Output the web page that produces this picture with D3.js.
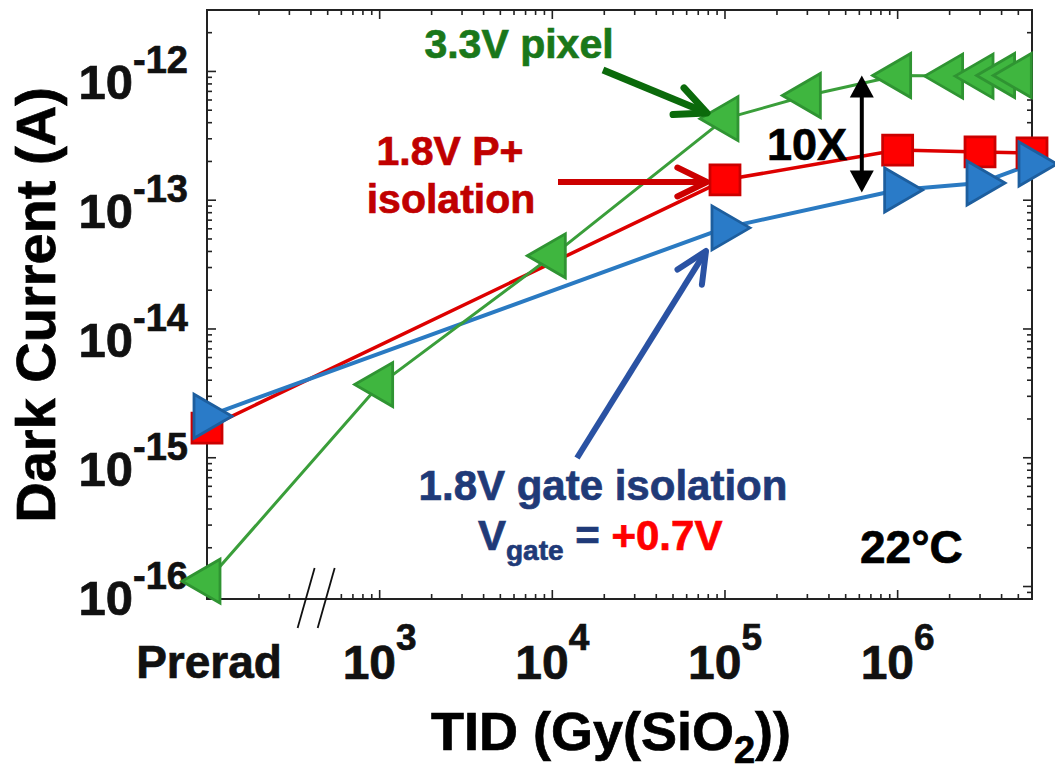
<!DOCTYPE html>
<html>
<head>
<meta charset="utf-8">
<script src="https://cdn.jsdelivr.net/npm/d3@7"></script>
<style>
  html, body { margin: 0; padding: 0; background: #fff; }
  svg { display: block; font-family: "Liberation Sans", Arial, Helvetica, sans-serif; font-weight: bold; }
  text { stroke: currentColor; stroke-width: 0.7px; }
</style>
</head>
<body>
<svg id="chart" width="1055" height="771"></svg>
<script>
// Pre-irradiation points sit at this dose position, left of the axis break
const PRERAD_POS = 1e2;

// Dose (Gy(SiO2)); 0 = pre-irradiation
const pixel33Dose    = [0, 1e3, 1e4, 1e5, 3e5, 1e6, 2e6, 3e6, 4e6, 5e6];
const pixel33Current = [1.1e-16, 3.7e-15, 3.7e-14, 4.3e-13, 6.5e-13, 9.3e-13, 9.2e-13, 9.2e-13, 9.3e-13, 9.3e-13];

const pIsoDose    = [0, 1e5, 1e6, 3e6, 6e6];
const pIsoCurrent = [1.7e-15, 1.44e-13, 2.45e-13, 2.37e-13, 2.33e-13];

const gateIsoDose    = [0, 1e5, 1e6, 3e6, 6e6];
const gateIsoCurrent = [2.1e-15, 6.1e-14, 1.2e-13, 1.36e-13, 1.91e-13];

const xTickExponents = [3, 4, 5, 6];
const yTickExponents = [-12, -13, -14, -15, -16];
const xDomain = [1e2, 6e6];
const yDomain = [8e-17, 3e-12];
const axisBreakDose = [3.75e2, 4.9e2];   // the two "//" marks
const tenXDose = 6.2e5;                   // double arrow position
const tenXSpan = [9.3e-13, 1.15e-13];

const svg = d3.select("#chart");
const plot = { left: 207, right: 1032, top: 10, bottom: 599 };

const x = d3.scaleLog().domain(xDomain).range([plot.left, plot.right]);
const y = d3.scaleLog().domain(yDomain).range([plot.bottom, plot.top]);
const xd = d => x(d === 0 ? PRERAD_POS : d);

// colour helper so the text outline follows the fill
function colored(sel, c) { return sel.attr("fill", c).style("color", c); }

// ---------- frame ----------
const axisColor = "#222";
svg.append("rect")
  .attr("x", plot.left).attr("y", plot.top)
  .attr("width", plot.right - plot.left).attr("height", plot.bottom - plot.top)
  .attr("fill", "none").attr("stroke", axisColor).attr("stroke-width", 2);

// ---------- ticks ----------
const ticksG = svg.append("g").attr("stroke", axisColor).attr("stroke-width", 1.6);
const xTicks = [];
for (let d = 2; d <= 6; d++) for (let m = 1; m <= 9; m++) {
  const v = m * Math.pow(10, d);
  if (v > xDomain[0] && v <= xDomain[1] * 1.0001) xTicks.push({ v, major: m === 1 });
}
xTicks.forEach(t => {
  const px = x(t.v), len = t.major ? 9 : 5;
  ticksG.append("line").attr("x1", px).attr("x2", px).attr("y1", plot.top).attr("y2", plot.top + len);
  const hidden = t.v > axisBreakDose[0] * 0.9 && t.v < axisBreakDose[1] * 1.15;
  if (!hidden)
    ticksG.append("line").attr("x1", px).attr("x2", px).attr("y1", plot.bottom).attr("y2", plot.bottom - len);
});
const yTicks = [];
for (let d = -17; d <= -12; d++) for (let m = 1; m <= 9; m++) {
  const v = m * Math.pow(10, d);
  if (v > yDomain[0] * 1.0001 && v < yDomain[1] * 0.9999) yTicks.push({ v, major: m === 1 });
}
yTicks.forEach(t => {
  const py = y(t.v), len = t.major ? 9 : 5;
  ticksG.append("line").attr("y1", py).attr("y2", py).attr("x1", plot.left).attr("x2", plot.left + len);
  ticksG.append("line").attr("y1", py).attr("y2", py).attr("x1", plot.right).attr("x2", plot.right - len);
});

// axis break marks
axisBreakDose.forEach(v => {
  const cx = x(v);
  svg.append("line")
    .attr("x1", cx - 8.5).attr("y1", plot.bottom + 29)
    .attr("x2", cx + 8.5).attr("y2", plot.bottom - 31)
    .attr("stroke", "#111").attr("stroke-width", 1.8);
});

// ---------- tick labels ----------
yTickExponents.forEach(e => {
  const t = colored(svg.append("text"), "#111")
    .attr("x", 188).attr("y", y(Math.pow(10, e)) + 28)
    .attr("text-anchor", "end");
  t.append("tspan").attr("font-size", 49).text("10");
  t.append("tspan").attr("font-size", 38).attr("dy", -26).text(String(e));
});
xTickExponents.forEach(e => {
  const t = colored(svg.append("text"), "#111")
    .attr("x", x(Math.pow(10, e))).attr("y", 679)
    .attr("text-anchor", "middle");
  t.append("tspan").attr("font-size", 48).text("10");
  t.append("tspan").attr("font-size", 37).attr("dy", -29).text(String(e));
});
colored(svg.append("text"), "#111")
  .attr("x", x(PRERAD_POS) + 2).attr("y", 678).attr("text-anchor", "middle")
  .attr("font-size", 46).text("Prerad");

// ---------- axis titles ----------
colored(svg.append("text"), "#000")
  .attr("transform", "translate(55,305) rotate(-90)")
  .attr("text-anchor", "middle").attr("font-size", 56)
  .text("Dark Current (A)");
const xt = colored(svg.append("text"), "#000")
  .attr("x", 611).attr("y", 750).attr("text-anchor", "middle")
  .attr("font-size", 54);
xt.append("tspan").text("TID (Gy(SiO");
xt.append("tspan").attr("font-size", 38).attr("dy", 13).text("2");
xt.append("tspan").attr("dy", -13).text("))");

// ---------- series ----------
const series = [
  { dose: pIsoDose, cur: pIsoCurrent, line: "#dd0000", lw: 3.5, fill: "#ff0000", stroke: "#cc0000", shape: "square" },
  { dose: gateIsoDose, cur: gateIsoCurrent, line: "#2a7ac2", lw: 4, fill: "#2a7bc8", stroke: "#1d5e9e", shape: "right" },
  { dose: pixel33Dose, cur: pixel33Current, line: "#3a9e3a", lw: 3, fill: "#3fb63f", stroke: "#2f9432", shape: "left" }
];
const line = d3.line().x(d => xd(d[0])).y(d => y(d[1]));
series.forEach(s => {
  const pts = s.dose.map((d, i) => [d, s.cur[i]]);
  svg.append("path").attr("d", line(pts))
    .attr("fill", "none").attr("stroke", s.line).attr("stroke-width", s.lw)
    .attr("stroke-linejoin", "round");
});

const shapePath = {
  square: "M-15,-15H15V15H-15Z",
  right: "M25,0L-13,-22L-13,22Z",
  left: "M-25,0L13,-22L13,22Z"
};
series.forEach(s => {
  svg.append("g").selectAll("path")
    .data(s.dose.map((d, i) => [d, s.cur[i]]))
    .join("path")
    .attr("transform", d => `translate(${xd(d[0])},${y(d[1])})`)
    .attr("d", shapePath[s.shape])
    .attr("fill", s.fill).attr("stroke", s.stroke).attr("stroke-width", 2.8)
    .attr("stroke-linejoin", "miter");
});

// ---------- annotations ----------
function arrow(x1, y1, x2, y2, color, width, armLen, armDeg) {
  const g = svg.append("g").attr("stroke", color).attr("stroke-width", width)
    .attr("fill", "none").attr("stroke-linecap", "round").attr("stroke-linejoin", "round");
  g.append("line").attr("x1", x1).attr("y1", y1).attr("x2", x2).attr("y2", y2).attr("stroke-linecap", "butt");
  const ang = Math.atan2(y1 - y2, x1 - x2), a = armDeg * Math.PI / 180;
  const p1 = [x2 + armLen * Math.cos(ang + a), y2 + armLen * Math.sin(ang + a)];
  const p2 = [x2 + armLen * Math.cos(ang - a), y2 + armLen * Math.sin(ang - a)];
  g.append("path").attr("d", `M${p1[0]},${p1[1]}L${x2},${y2}L${p2[0]},${p2[1]}`);
}

colored(svg.append("text"), "#1a771a").attr("x", 519).attr("y", 58).attr("text-anchor", "middle")
  .attr("font-size", 41).text("3.3V pixel");
arrow(603, 70, 707, 113, "#0b6a0b", 7, 34, 25);

colored(svg.append("text"), "#c00000").attr("x", 450).attr("y", 165).attr("text-anchor", "middle")
  .attr("font-size", 41).text("1.8V P+");
colored(svg.append("text"), "#c00000").attr("x", 451).attr("y", 213).attr("text-anchor", "middle")
  .attr("font-size", 41).text("isolation");
arrow(558, 182, 707, 182, "#cc0000", 6, 33, 26);

arrow(577, 458, 706, 251, "#2a52a3", 6, 34, 25);
colored(svg.append("text"), "#1f3a78").attr("x", 603).attr("y", 500).attr("text-anchor", "middle")
  .attr("font-size", 42).text("1.8V gate isolation");
const vg = colored(svg.append("text"), "#1f3a78").attr("x", 478).attr("y", 550).attr("font-size", 42);
vg.append("tspan").text("V");
vg.append("tspan").attr("font-size", 28).attr("dy", 10).text("gate");
vg.append("tspan").attr("dy", -10).text(" = ");
colored(vg.append("tspan"), "#ff0000").text("+0.7V");

colored(svg.append("text"), "#000").attr("x", 860).attr("y", 563).attr("font-size", 46).text("22°C");

// 10X double-headed arrow
const ax = x(tenXDose), ay1 = y(tenXSpan[0]), ay2 = y(tenXSpan[1]);
svg.append("line").attr("x1", ax).attr("x2", ax).attr("y1", ay1 + 18).attr("y2", ay2 - 18)
  .attr("stroke", "#000").attr("stroke-width", 4);
svg.append("path").attr("d", `M${ax},${ay1}L${ax - 12},${ay1 + 22}L${ax + 12},${ay1 + 22}Z`).attr("fill", "#000");
svg.append("path").attr("d", `M${ax},${ay2}L${ax - 12},${ay2 - 22}L${ax + 12},${ay2 - 22}Z`).attr("fill", "#000");
colored(svg.append("text"), "#000").attr("x", 767).attr("y", 160).attr("font-size", 45).text("10X");
</script>
</body>
</html>
